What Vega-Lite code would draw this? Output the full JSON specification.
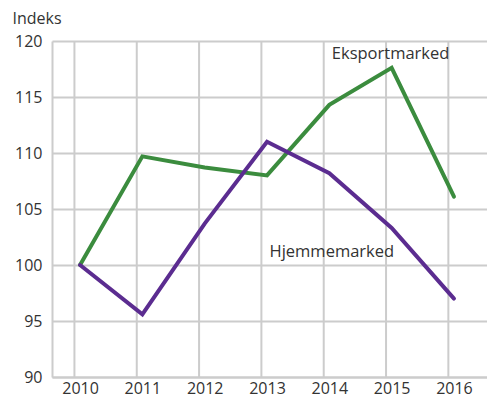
{
  "$schema": "https://vega.github.io/schema/vega-lite/v6.json",
  "width": 435,
  "height": 336,
  "autosize": "none",
  "padding": {"left": 52, "top": 41, "right": 0, "bottom": 24},
  "background": "white",
  "config": {
    "view": {"stroke": null},
    "font": "Open Sans",
    "axis": {"labelFont": "Open Sans", "titleFont": "Open Sans", "labelColor": "#333333", "titleColor": "#333333"}
  },
  "datasets": {
    "series": [
      {"year": 2010, "value": 100.0, "series": "Eksportmarked"},
      {"year": 2011, "value": 109.7, "series": "Eksportmarked"},
      {"year": 2012, "value": 108.7, "series": "Eksportmarked"},
      {"year": 2013, "value": 108.0, "series": "Eksportmarked"},
      {"year": 2014, "value": 114.3, "series": "Eksportmarked"},
      {"year": 2015, "value": 117.6, "series": "Eksportmarked"},
      {"year": 2016, "value": 106.1, "series": "Eksportmarked"},
      {"year": 2010, "value": 100.0, "series": "Hjemmemarked"},
      {"year": 2011, "value": 95.6, "series": "Hjemmemarked"},
      {"year": 2012, "value": 103.7, "series": "Hjemmemarked"},
      {"year": 2013, "value": 111.0, "series": "Hjemmemarked"},
      {"year": 2014, "value": 108.2, "series": "Hjemmemarked"},
      {"year": 2015, "value": 103.3, "series": "Hjemmemarked"},
      {"year": 2016, "value": 97.0, "series": "Hjemmemarked"}
    ],
    "grid": [
      {"gx": 2009.91}, {"gx": 2010.91}, {"gx": 2011.91}, {"gx": 2012.91},
      {"gx": 2013.91}, {"gx": 2014.91}, {"gx": 2015.91}
    ],
    "labels": [
      {"lx": 2014.04, "ly": 118.8, "text": "Eksportmarked"},
      {"lx": 2013.04, "ly": 101.2, "text": "Hjemmemarked"}
    ]
  },
  "layer": [
    {
      "data": {"name": "grid"},
      "mark": {"type": "rule", "color": "#cccccc", "strokeWidth": 2},
      "encoding": {
        "x": {"field": "gx", "type": "quantitative", "scale": {"domain": [2009.55, 2016.53], "nice": false, "zero": false}}
      }
    },
    {
      "data": {"name": "series"},
      "mark": {"type": "line", "strokeWidth": 4, "strokeCap": "round", "strokeJoin": "miter"},
      "encoding": {
        "x": {
          "field": "year", "type": "quantitative",
          "scale": {"domain": [2009.55, 2016.53], "nice": false, "zero": false},
          "axis": {
            "values": [2010, 2011, 2012, 2013, 2014, 2015, 2016],
            "format": "d", "grid": false, "ticks": false,
            "domainColor": "#cccccc", "domainWidth": 2,
            "labelFontSize": 16, "labelPadding": 3, "title": null
          }
        },
        "y": {
          "field": "value", "type": "quantitative",
          "scale": {"domain": [90, 120], "nice": false, "zero": false},
          "axis": {
            "values": [90, 95, 100, 105, 110, 115, 120],
            "grid": true, "gridColor": "#cccccc", "gridWidth": 2,
            "ticks": false, "domainColor": "#cccccc", "domainWidth": 2,
            "labelFontSize": 16, "labelPadding": 10,
            "title": "Indeks", "titleAngle": 0, "titleAlign": "left", "titleBaseline": "alphabetic",
            "titleX": -40, "titleY": -18, "titleFontSize": 16, "titleFontWeight": "normal"
          }
        },
        "color": {
          "field": "series", "type": "nominal",
          "scale": {"domain": ["Eksportmarked", "Hjemmemarked"], "range": ["#3b8c3e", "#5b2c90"]},
          "legend": null
        }
      }
    },
    {
      "data": {"name": "labels"},
      "mark": {"type": "text", "align": "left", "baseline": "middle", "fontSize": 16.5, "color": "#333333", "font": "Open Sans"},
      "encoding": {
        "x": {"field": "lx", "type": "quantitative", "scale": {"domain": [2009.55, 2016.53], "nice": false, "zero": false}},
        "y": {"field": "ly", "type": "quantitative", "scale": {"domain": [90, 120], "nice": false, "zero": false}},
        "text": {"field": "text"}
      }
    }
  ]
}
